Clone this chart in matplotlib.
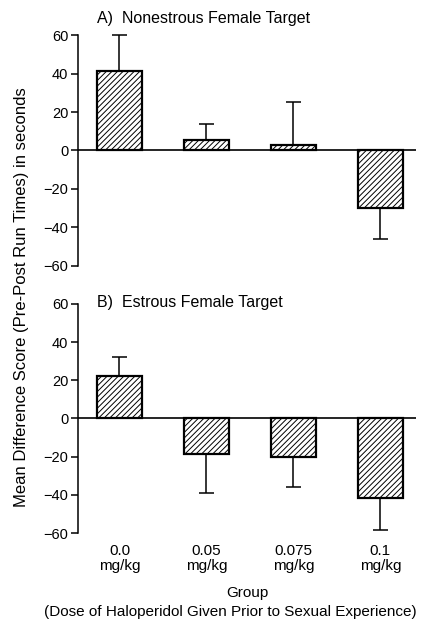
import matplotlib
matplotlib.use("Agg")
import matplotlib.pyplot as plt

plt.rcParams['font.family'] = ['Liberation Sans', 'DejaVu Sans']
plt.rcParams['hatch.linewidth'] = 0.7

groups = ["0.0\nmg/kg", "0.05\nmg/kg", "0.075\nmg/kg", "0.1\nmg/kg"]
a_means = [41.5, 5.7, 2.8, -29.8]
a_err = [18.5, 8.3, 22.2, 16.2]
b_means = [22.3, -18.6, -20.0, -41.4]
b_err = [9.7, 20.2, 15.8, 17.2]
yticks = [-60, -40, -20, 0, 20, 40, 60]
titles = ["A)  Nonestrous Female Target", "B)  Estrous Female Target"]

fig = plt.figure(figsize=(4.25, 6.21), dpi=100)
axA = fig.add_axes([0.1835, 0.5717, 0.7955, 0.3719])
axB = fig.add_axes([0.1835, 0.1417, 0.7955, 0.3688])

x = list(range(len(groups)))
fs = 11
tfs = 10.5
for ax, means, errs in [(axA, a_means, a_err), (axB, b_means, b_err)]:
    ax.bar(x, means, width=0.52, color='white', edgecolor='black', linewidth=1.6,
           hatch='//////', zorder=3, clip_on=False)
    for xi, m, e in zip(x, means, errs):
        yerr = [[0], [e]] if m >= 0 else [[e], [0]]
        ax.errorbar([xi], [m], yerr=yerr, fmt='none', ecolor='black',
                    elinewidth=1.1, capsize=5.4, capthick=1.1, zorder=2,
                    clip_on=False)
    ax.axhline(0, color='black', linewidth=1.2, zorder=4)
    ax.set_xlim(-0.477, 3.41)
    ax.set_ylim(-60, 60)
    ax.set_yticks(yticks)
    ax.set_yticklabels([str(t).replace('-', '\u2212') for t in yticks], fontsize=tfs)
    for s in ['top', 'right', 'bottom']:
        ax.spines[s].set_visible(False)
    ax.spines['left'].set_linewidth(1.1)
    ax.tick_params(axis='y', direction='out', length=5, width=1.1, pad=2)
    ax.tick_params(axis='x', length=0)
    ax.set_xticks(x)
    ax.set_xticklabels([])

fig.text(97/425, 1 - 18/621, titles[0], fontsize=11.5, ha='left', va='center')
fig.text(97/425, 1 - 303/621, titles[1], fontsize=11.5, ha='left', va='center')

axB.set_xticklabels(groups, fontsize=fs, linespacing=1.1)
axB.tick_params(axis='x', pad=8)

fig.text(247/425, 1 - 593/621, "Group", fontsize=fs, ha='center', va='center')
fig.text(230/425, 1 - 612/621, "(Dose of Haloperidol Given Prior to Sexual Experience)",
         fontsize=fs, ha='center', va='center')
fig.text(22/425, 1 - 297/621, "Mean Difference Score (Pre-Post Run Times) in seconds",
         fontsize=12, rotation=90, ha='center', va='center')

fig.savefig("out.png", dpi=100)
